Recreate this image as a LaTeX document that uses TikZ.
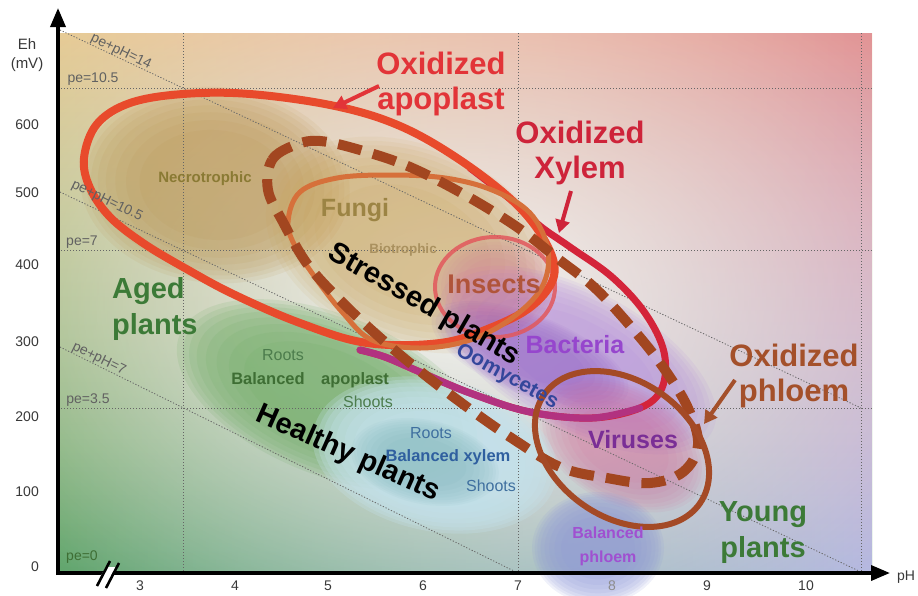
\documentclass[tikz,border=0pt]{standalone}
\usepackage{fontspec}
\setmainfont{Liberation Sans}
\usetikzlibrary{arrows.meta,fadings}
\tikzfading[name=fadeLR, left color=transparent!100, right color=transparent!0]
\tikzfading[name=softglow, inner color=transparent!0, outer color=transparent!100]
\definecolor{bgTL}{RGB}{232,204,150}
\definecolor{bgTR}{RGB}{226,148,150}
\definecolor{bgBL}{RGB}{98,166,110}
\definecolor{bgBR}{RGB}{182,186,226}
\definecolor{oxred}{RGB}{226,52,56}
\definecolor{xyred}{RGB}{206,36,58}
\definecolor{phbrown}{RGB}{164,80,42}
\definecolor{plgreen}{RGB}{60,122,55}
\definecolor{apoRing}{RGB}{232,74,44}
\definecolor{fungRing}{RGB}{214,112,58}
\definecolor{insRing}{RGB}{226,88,92}
\definecolor{xyRing}{RGB}{212,36,58}
\definecolor{xyRingB}{RGB}{178,50,128}
\definecolor{phRing}{RGB}{164,74,38}
\definecolor{stRing}{RGB}{162,70,32}
\definecolor{tanA}{RGB}{185,145,75}
\definecolor{tanB}{RGB}{200,160,80}
\definecolor{grnA}{RGB}{110,172,100}
\definecolor{bluA}{RGB}{196,226,236}
\definecolor{tealA}{RGB}{90,160,165}
\definecolor{lavA}{RGB}{175,130,220}
\definecolor{purA}{RGB}{120,60,190}
\definecolor{pinkA}{RGB}{210,100,150}
\definecolor{phlA}{RGB}{140,150,215}
\definecolor{necTxt}{RGB}{138,122,52}
\definecolor{funTxt}{RGB}{156,132,68}
\definecolor{bioTxt}{RGB}{170,145,95}
\definecolor{insTxt}{RGB}{176,84,58}
\definecolor{bacTxt}{RGB}{150,70,205}
\definecolor{oomTxt}{RGB}{52,70,155}
\definecolor{virTxt}{RGB}{122,46,150}
\definecolor{gTxt}{RGB}{76,124,76}
\definecolor{gTxtB}{RGB}{62,110,52}
\definecolor{bTxt}{RGB}{63,111,159}
\definecolor{bTxtB}{RGB}{47,95,159}
\definecolor{phTxt}{RGB}{160,80,208}
\newcommand{\softblob}[7]{%
  \foreach \kk in {1,0.96,0.92,0.87,0.81,0.74,0.66,0.56}{%
    \fill[#6, opacity=#7, rotate around={#5:(#1,#2)}] (#1,#2) ellipse [x radius={\kk*#3}, y radius={\kk*#4}];}}
\newcommand{\fBig}{\fontsize{31}{35}\selectfont\bfseries}
\newcommand{\fPl}{\fontsize{29}{36}\selectfont\bfseries}
\newcommand{\fMid}{\fontsize{25}{30}\selectfont\bfseries}
\newcommand{\fSm}{\fontsize{16.5}{20}\selectfont\bfseries}
\newcommand{\fSmR}{\fontsize{16}{20}\selectfont}
\begin{document}
\begin{tikzpicture}[x=1pt,y=-1pt,
  gridl/.style={draw=black!60, line width=0.8pt, dash pattern=on 1.2pt off 1.8pt},
  lab/.style={inner sep=0pt, align=center},
  tick/.style={inner sep=0pt, font=\fontsize{14}{16}\selectfont, text=black!78},
  pel/.style={inner sep=0pt, font=\fontsize{14}{16}\selectfont, text=black!62},
  ring/.style={line cap=round, line join=round},
  callout/.style={line width=4pt, -{Triangle[length=13pt,width=14pt]}},
  axisl/.style={line width=3.5pt, -{Triangle[length=19pt,width=15pt]}}
]
\useasboundingbox (0,0) rectangle (918,595);
% background
\begin{scope}
\clip (58,33) rectangle (872,573);
\shade[top color=bgTL, bottom color=bgBL] (58,33) rectangle (872,573);
\shade[top color=bgTR, bottom color=bgBR, path fading=fadeLR] (58,33) rectangle (872,573);
\fill[white, opacity=0.85, path fading=softglow] (465,300) ellipse [x radius=560, y radius=380];
\end{scope}
% blobs
\softblob{215}{185}{135}{98}{-5}{tanA}{0.1}
\softblob{410}{245}{150}{100}{-22}{tanB}{0.09}
\softblob{330}{395}{162}{80}{-22}{grnA}{0.15}
\softblob{578}{360}{152}{70}{-28}{lavA}{0.1}
\softblob{530}{355}{105}{40}{-22}{purA}{0.05}
\softblob{495}{287}{62}{52}{0}{pinkA}{0.05}
\softblob{622}{445}{90}{58}{-30}{pinkA}{0.08}
\softblob{435}{455}{124}{76}{-12}{bluA}{0.28}
\softblob{425}{462}{75}{42}{-12}{tealA}{0.05}
\softblob{598}{548}{66}{56}{0}{phlA}{0.13}
% grid
\draw[gridl] (58,88) -- (872,88);
\draw[gridl] (58,250) -- (872,250);
\draw[gridl] (58,408) -- (872,408);
\draw[gridl] (183,33) -- (183,573);
\draw[gridl] (518,33) -- (518,573);
\draw[gridl] (861,33) -- (861,573);
\draw[gridl] (60,30) -- (861,408);
\draw[gridl] (60,192) -- (861,572);
\draw[gridl] (60,347) -- (518,573);
% rings
\draw[insRing, line width=4pt, opacity=0.85] (495,287) ellipse [x radius=60, y radius=50];
\draw[ring, xyRing, line width=7pt] plot[smooth, tension=0.6] coordinates {(470,168) (515,203) (540,226) (570,247) (612,277) (645,313) (664,352) (662,388) (640,408) (592,418) (530,412) (470,393) (420,372) (385,357) (360,350)};
\draw[ring, xyRingB, line width=7pt] plot[smooth, tension=0.6] coordinates {(640,408) (592,418) (530,412) (470,393) (420,372) (385,357) (360,350)};
\draw[ring, apoRing, line width=8pt] plot[smooth cycle, tension=0.6] coordinates {(84,158) (97,124) (130,103) (183,94) (250,94) (335,106) (400,126) (460,160) (515,203) (546,243) (554,276) (532,306) (490,328) (440,343) (367,343) (300,323) (233,294) (183,267) (143,243) (110,217) (90,188)};
\draw[ring, fungRing, line width=5pt] plot[smooth cycle, tension=0.6] coordinates {(288,222) (300,192) (337,178) (390,175) (445,178) (492,190) (530,213) (548,250) (542,287) (512,318) (470,340) (420,348) (372,340) (343,313) (317,280) (296,248)};
\draw[stRing, line width=10pt, dash pattern=on 24pt off 12pt] plot[smooth cycle, tension=0.6] coordinates {(268,190) (272,160) (295,145) (320,141) (360,150) (410,167) (465,195) (517,227) (557,258) (595,288) (632,328) (663,367) (688,408) (698,445) (683,472) (650,483) (607,478) (560,467) (510,437) (467,407) (425,375) (385,342) (345,305) (308,265) (283,222)};
\draw[phRing, line width=6pt, rotate around={-35:(622,449)}] (622,449) ellipse [x radius=95, y radius=68];
% region texts
\node[lab, text=necTxt, font=\fontsize{15}{18}\selectfont\bfseries] (necro) at (205,179) {Necrotrophic};
\node[lab, text=funTxt, font=\fMid] (fungi) at (355,210) {Fungi};
\node[lab, text=bioTxt, font=\fontsize{13.5}{16}\selectfont\bfseries] (bio) at (403,250) {Biotrophic};
\node[lab, text=insTxt, font=\fontsize{27}{30}\selectfont\bfseries] (insects) at (494,284) {Insects};
\node[lab, text=bacTxt, font=\fMid] (bact) at (575,345) {Bacteria};
\node[lab, text=oomTxt, font=\fontsize{21}{24}\selectfont\bfseries, rotate=-29] (oomy) at (507,377) {Oomycetes};
\node[lab, text=virTxt, font=\fMid] (vir) at (633,440) {Viruses};
\node[lab, text=black, font=\fPl, rotate=-30] (stressed) at (424,305) {Stressed plants};
\node[lab, text=black, font=\fPl, rotate=-24] (healthy) at (348,454) {Healthy plants};
\node[lab, text=gTxt, font=\fSmR] (roots1) at (283,355) {Roots};
\node[lab, text=gTxtB, font=\fSm] (bal1) at (268,379) {Balanced};
\node[lab, text=gTxtB, font=\fSm] (apo1) at (355,380) {apoplast};
\node[lab, text=gTxt, font=\fSmR] (shoots1) at (368,402) {Shoots};
\node[lab, text=bTxt, font=\fSmR] (roots2) at (431,433) {Roots};
\node[lab, text=bTxtB, font=\fSm] (balx) at (448,457) {Balanced xylem};
\node[lab, text=bTxt, font=\fSmR] (shoots2) at (491,486) {Shoots};
\node[lab, text=phTxt, font=\fontsize{16}{24}\selectfont\bfseries] (balp) at (608,546) {Balanced\\phloem};
% big labels
\node[lab, text=oxred, font=\fBig] (oxa) at (441,84) {Oxidized\\apoplast};
\node[lab, text=xyred, font=\fBig] (oxx) at (580,153) {Oxidized\\Xylem};
\node[lab, text=phbrown, font=\fBig] (oxp) at (794,376) {Oxidized\\phloem};
\node[lab, text=plgreen, font=\fPl] (young) at (763,533) {Young\\plants};
\node[lab, text=plgreen, font=\fPl, align=left, anchor=west] (aged) at (112,309) {Aged\\plants};
% callout arrows
\coordinate (oxaS) at (379,86); \coordinate (oxaT) at (333,108);
\coordinate (oxxS) at (571,191); \coordinate (oxxT) at (559,233);
\coordinate (oxpS) at (735,380); \coordinate (oxpT) at (704,424);
\draw[callout, oxred] (oxaS) -- (oxaT);
\draw[callout, xyred] (oxxS) -- (oxxT);
\draw[callout, phbrown] (oxpS) -- (oxpT);
% grid labels
\node[pel, rotate=-26] (l14) at (121,52) {pe+pH=14};
\node[pel] (p105) at (93,79) {pe=10.5};
\node[pel, rotate=-26] (l105) at (107,201) {pe+pH=10.5};
\node[pel] (p7) at (82,242) {pe=7};
\node[pel, rotate=-26] (l7) at (99,359) {pe+pH=7};
\node[pel] (p35) at (88,400) {pe=3.5};
\node[pel, text=gTxtB] (p0) at (82,557) {pe=0};
% axes
\coordinate (Ybot) at (58,575);
\coordinate (Ytip) at (58,8);
\coordinate (Xbeg) at (56,573);
\coordinate (Xtip) at (890,573);
\draw[axisl] (Ybot) -- (Ytip);
\draw[axisl] (Xbeg) -- (Xtip);
\fill[white] (99,579) -- (109,579) -- (116,567) -- (106,567) -- cycle;
\draw[line width=2.6pt] (97,586) -- (110,561);
\draw[line width=2.6pt] (106,588) -- (119,563);
% ticks
\node[tick] (x3) at (140,586) {3};
\node[tick] (x4) at (235,586) {4};
\node[tick] (x5) at (328,586) {5};
\node[tick] (x6) at (423,586) {6};
\node[tick] (x7) at (518,586) {7};
\node[tick, text=black!45] (x8) at (612,586) {8};
\node[tick] (x9) at (707,586) {9};
\node[tick] (x10) at (806,586) {10};
\node[tick] (phl) at (906,577) {pH};
\node[tick, anchor=east] (y600) at (39,125) {600};
\node[tick, anchor=east] (y500) at (39,193) {500};
\node[tick, anchor=east] (y400) at (39,265) {400};
\node[tick, anchor=east] (y300) at (39,342) {300};
\node[tick, anchor=east] (y200) at (39,417) {200};
\node[tick, anchor=east] (y100) at (39,492) {100};
\node[tick, anchor=east] (y0) at (39,567) {0};
\node[tick, align=center, font=\fontsize{15}{19}\selectfont] (eh) at (27,55) {Eh\\(mV)};
\end{tikzpicture}
\end{document}
